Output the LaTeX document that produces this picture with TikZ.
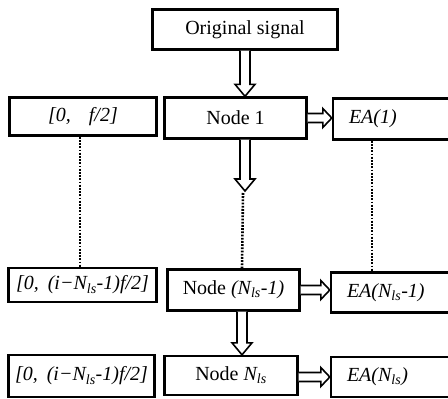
\documentclass[tikz,border=0pt]{standalone}
\usepackage{fontspec}
\setmainfont{Liberation Serif}
\usetikzlibrary{calc}
\tikzset{
  box/.style={draw, line width=2.4pt, rectangle, inner sep=0pt, font=\fontsize{20}{24}\selectfont},
  eabox/.style={box, inner xsep=16pt, align=left},
  harrow/.style={draw, line width=1.6pt, fill=white, line join=miter},
  dots/.style={line width=2.6pt, dash pattern=on 1.8pt off 1.4pt},
}
\newcommand\hollowdown[2]{%
  \draw[harrow] ($#1+(-5,0)$) -- ($#2+(-5,-12)$) -- ($#2+(-10,-12)$) -- #2
    -- ($#2+(10,-12)$) -- ($#2+(5,-12)$) -- ($#1+(5,0)$);}
\newcommand\hollowright[2]{%
  \draw[harrow] ($#1+(0,-4.5)$) -- ($#2+(-9,-4.5)$) -- ($#2+(-9,-9.5)$) -- #2
    -- ($#2+(-9,9.5)$) -- ($#2+(-9,4.5)$) -- ($#1+(0,4.5)$);}
\begin{document}
\begin{tikzpicture}[x=1pt,y=-1pt]
\useasboundingbox (0,0) rectangle (448,399);
\clip (0,0) rectangle (448,399);
% coordinates for connector columns
\coordinate (lx) at (80,0);
\coordinate (mx) at (242,0);
\coordinate (rx) at (372,0);
% top
\node[box, minimum width=185pt, minimum height=40pt] (orig) at (245,29.5) {Original signal};
% row 1
\node[box, minimum width=147pt, minimum height=38pt] (f1) at (83,116.5) {\textit{[0,\hspace{0.9em}f/2]}};
\node[box, minimum width=142pt, minimum height=41pt] (n1) at (235.5,118) {Node 1};
\node[eabox, minimum height=41pt, text width=98pt] (ea1) at (398,119) {\textit{EA(1)}};
% row 2
\node[box, minimum width=148pt, minimum height=34pt] (f2) at (82.5,285) {\textit{[0,\hspace{0.45em}(i−N\textsubscript{ls}-1)f/2]}};
\node[box, minimum width=132pt, minimum height=41pt] (n2) at (233.5,290) {Node \textit{(N\textsubscript{ls}-1)}};
\node[eabox, minimum height=40pt, text width=98pt] (ea2) at (396,292.5) {\textit{EA(N\textsubscript{ls}-1)}};
% row 3
\node[box, minimum width=146pt, minimum height=42pt] (f3) at (81.5,376) {\textit{[0,\hspace{0.45em}(i−N\textsubscript{ls}-1)f/2]}};
\node[box, minimum width=133pt, minimum height=39pt] (n3) at (231,375.5) {Node \textit{N\textsubscript{ls}}};
\node[eabox, minimum height=40pt, text width=98pt] (ea3) at (396,377) {\textit{EA(N\textsubscript{ls})}};
% arrow tip coordinate for the open-ended arrow
\coordinate (d1) at (245,191);
% vertical arrows
\hollowdown{(orig.south)}{(n1.north -| orig.south)}
\hollowdown{(n1.south -| d1)}{(d1)}
\hollowdown{(n2.south -| mx)}{(n3.north -| mx)}
% horizontal arrows
\hollowright{(n1.east)}{(ea1.west |- n1.east)}
\hollowright{(n2.east)}{(ea2.west |- n2.east)}
\hollowright{(n3.east |- ea3.west)}{(ea3.west)}
% dotted continuation lines
\draw[dots] (f1.south -| lx) -- (f2.north -| lx);
\draw[dots] ($(d1)+(-2,2)$) -- (n2.north -| mx);
\draw[dots] (ea1.south -| rx) -- (ea2.north -| rx);
\end{tikzpicture}
\end{document}
